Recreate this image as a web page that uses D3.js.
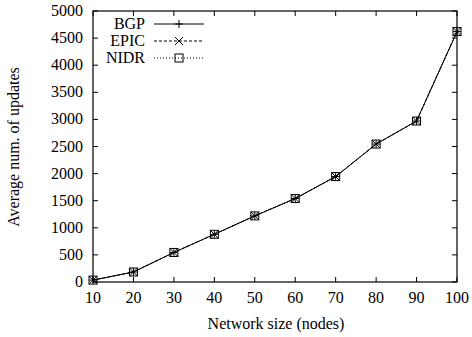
<!DOCTYPE html>
<html><head><meta charset="utf-8">
<script src="https://cdn.jsdelivr.net/npm/d3@7"></script>
<style>body{margin:0;background:#fff;} svg{display:block;} text{font-family:"Liberation Serif","Times New Roman",serif;fill:#000;}</style>
</head><body>
<svg id="c" width="472" height="337"></svg>
<script>
const sizes = [10, 20, 30, 40, 50, 60, 70, 80, 90, 100];
const bgp  = [35, 185, 545, 880, 1220, 1540, 1945, 2545, 2970, 4620];
const epic = [35, 185, 545, 880, 1220, 1540, 1945, 2545, 2970, 4620];
const nidr = [35, 185, 545, 880, 1220, 1540, 1945, 2545, 2970, 4620];
const xTicks = [10, 20, 30, 40, 50, 60, 70, 80, 90, 100];
const yTicks = [0, 500, 1000, 1500, 2000, 2500, 3000, 3500, 4000, 4500, 5000];
const seriesNames = ["BGP", "EPIC", "NIDR"];

const svg = d3.select("#c");
const L = 93, R = 457, T = 11, B = 282;
const x = d3.scaleLinear().domain([10, 100]).range([L, R]);
const y = d3.scaleLinear().domain([0, 5000]).range([B, T]);
const fs = 16;

svg.append("rect").attr("x", L).attr("y", T).attr("width", R - L).attr("height", B - T)
  .attr("fill", "none").attr("stroke", "#000").attr("stroke-width", 1.2);

const tk = 5;
const g = svg.append("g").attr("stroke", "#000").attr("stroke-width", 1);
xTicks.forEach(v => {
  g.append("line").attr("x1", x(v)).attr("x2", x(v)).attr("y1", B).attr("y2", B - tk);
  g.append("line").attr("x1", x(v)).attr("x2", x(v)).attr("y1", T).attr("y2", T + tk);
});
yTicks.forEach(v => {
  g.append("line").attr("x1", L).attr("x2", L + tk).attr("y1", y(v)).attr("y2", y(v));
  g.append("line").attr("x1", R).attr("x2", R - tk).attr("y1", y(v)).attr("y2", y(v));
});
svg.selectAll(".xl").data(xTicks).enter().append("text")
  .attr("x", d => x(d)).attr("y", 303).attr("text-anchor", "middle")
  .attr("font-size", fs).text(d => d);
svg.selectAll(".yl").data(yTicks).enter().append("text")
  .attr("x", 83).attr("y", d => y(d) + 5).attr("text-anchor", "end")
  .attr("font-size", fs).text(d => d);

svg.append("text").attr("x", 276).attr("y", 329).attr("text-anchor", "middle")
  .attr("font-size", 16).text("Network size (nodes)");
svg.append("text").attr("transform", "translate(19,147) rotate(-90)").attr("text-anchor", "middle")
  .attr("font-size", 16).text("Average num. of updates");

const dashes = [null, "3,2", "1,2"];
const data = [bgp, epic, nidr];
const line = d3.line().x((d, i) => x(sizes[i])).y(d => y(d));

function marker(sel, k, cx, cy) {
  const s = 4;
  if (k === 0) {
    sel.append("path").attr("d", `M${cx - s},${cy}H${cx + s}M${cx},${cy - s}V${cy + s}`)
      .attr("stroke", "#000").attr("stroke-width", 1).attr("fill", "none");
  } else if (k === 1) {
    sel.append("path").attr("d", `M${cx - s},${cy - s}L${cx + s},${cy + s}M${cx - s},${cy + s}L${cx + s},${cy - s}`)
      .attr("stroke", "#000").attr("stroke-width", 1).attr("fill", "none");
  } else {
    sel.append("rect").attr("x", cx - s).attr("y", cy - s).attr("width", 2 * s).attr("height", 2 * s)
      .attr("stroke", "#000").attr("stroke-width", 1).attr("fill", "none");
  }
}

data.forEach((vals, k) => {
  const gg = svg.append("g");
  gg.append("path").datum(vals).attr("d", line).attr("fill", "none")
    .attr("stroke", "#000").attr("stroke-width", 1)
    .attr("stroke-dasharray", dashes[k]);
  vals.forEach((v, i) => marker(gg, k, x(sizes[i]), y(v)));
});

seriesNames.forEach((n, k) => {
  const ly = 24 + k * 17;
  svg.append("text").attr("x", 145).attr("y", ly + 5).attr("text-anchor", "end")
    .attr("font-size", fs).text(n);
  svg.append("line").attr("x1", 154).attr("x2", 204).attr("y1", ly).attr("y2", ly)
    .attr("stroke", "#000").attr("stroke-width", 1).attr("stroke-dasharray", dashes[k]);
  marker(svg, k, 179, ly);
});
</script>
</body></html>
